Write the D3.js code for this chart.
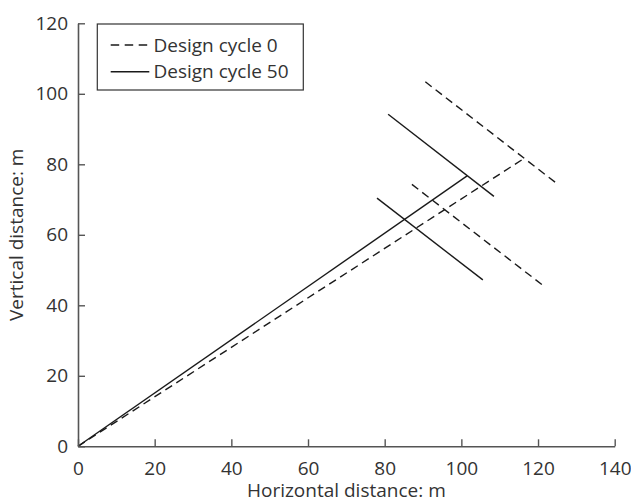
<!DOCTYPE html>
<html>
<head>
<meta charset="utf-8">
<script src="https://d3js.org/d3.v7.min.js"></script>
<style>
  body { margin: 0; background: #fff; }
  text { font-family: "Open Sans", sans-serif; fill: #333; }
</style>
</head>
<body>
<svg id="chart"></svg>
<script>
const xTicks = [0, 20, 40, 60, 80, 100, 120, 140];
const yTicks = [0, 20, 40, 60, 80, 100, 120];

// Design cycle 0 (dashed)
const cycle0Main = [[0, 0], [116.4, 81.7]];
const cycle0Upper = [[90.6, 103.4], [125.2, 74.3]];
const cycle0Lower = [[87.1, 74.3], [121.7, 45.3]];

// Design cycle 50 (solid)
const cycle50Main = [[0, 0], [101.5, 76.7]];
const cycle50Upper = [[80.9, 94.2], [108.5, 70.9]];
const cycle50Lower = [[78.0, 70.4], [105.6, 47.2]];

const legendLabels = ['Design cycle 0', 'Design cycle 50'];

const width = 631;
const height = 501;
const margin = { top: 23.3, right: 16.3, bottom: 54.7, left: 78 };

const svg = d3.select('#chart')
    .attr('width', width)
    .attr('height', height);

const x = d3.scaleLinear().domain([0, 140]).range([margin.left, width - margin.right]);
const y = d3.scaleLinear().domain([0, 120]).range([height - margin.bottom, margin.top]);

const line = d3.line().x(d => x(d[0])).y(d => y(d[1]));

const series = [
    { name: legendLabels[0], dash: '8,5', parts: [cycle0Main, cycle0Upper, cycle0Lower] },
    { name: legendLabels[1], dash: null, parts: [cycle50Main, cycle50Upper, cycle50Lower] }
];

series.forEach(s => {
    svg.append('g')
        .selectAll('path')
        .data(s.parts)
        .enter().append('path')
        .attr('d', line)
        .attr('fill', 'none')
        .attr('stroke', '#1a1a1a')
        .attr('stroke-width', 1.4)
        .attr('stroke-dasharray', s.dash);
});

// axes with ticks pointing inward
const xAxis = svg.append('g')
    .attr('transform', `translate(0,${y(0)})`)
    .call(d3.axisBottom(x).tickValues(xTicks).tickSizeInner(-7).tickSizeOuter(0).tickPadding(15));

const yAxis = svg.append('g')
    .attr('transform', `translate(${x(0)},0)`)
    .call(d3.axisLeft(y).tickValues(yTicks).tickSizeInner(-7).tickSizeOuter(0).tickPadding(10));

[xAxis, yAxis].forEach(a => {
    a.select('.domain').attr('stroke', '#555').attr('stroke-width', 1.6);
    a.selectAll('.tick line').attr('stroke', '#555').attr('stroke-width', 1.4);
    a.selectAll('.tick text')
        .attr('fill', '#333')
        .style('font-family', '"Open Sans", sans-serif')
        .style('font-size', '19px');
});

svg.append('text')
    .attr('x', (x(0) + x(140)) / 2)
    .attr('y', 497)
    .attr('text-anchor', 'middle')
    .style('font-size', '19px')
    .text('Horizontal distance: m');

svg.append('text')
    .attr('transform', `translate(23,${(y(0) + y(120)) / 2}) rotate(-90)`)
    .attr('text-anchor', 'middle')
    .style('font-size', '19px')
    .text('Vertical distance: m');

// legend
const legend = svg.append('g');
legend.append('rect')
    .attr('x', 97.3)
    .attr('y', 24)
    .attr('width', 206)
    .attr('height', 66)
    .attr('fill', '#fff')
    .attr('stroke', '#333')
    .attr('stroke-width', 1.2);

series.forEach((s, i) => {
    const cy = 45 + i * 26.7;
    legend.append('line')
        .attr('x1', 110.7).attr('x2', 149.3)
        .attr('y1', cy).attr('y2', cy)
        .attr('stroke', '#1a1a1a')
        .attr('stroke-width', 1.4)
        .attr('stroke-dasharray', s.dash ? '8.5,5.5' : null);
    legend.append('text')
        .attr('x', 153.5)
        .attr('y', cy)
        .attr('dy', '0.35em')
        .style('font-size', '19px')
        .text(s.name);
});
</script>
</body>
</html>
